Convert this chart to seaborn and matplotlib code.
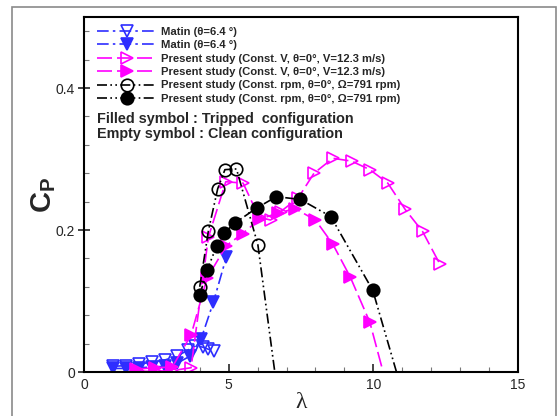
import matplotlib
matplotlib.use("Agg")
import matplotlib.pyplot as plt
import seaborn as sns
from matplotlib.patches import Rectangle
from matplotlib.ticker import MultipleLocator

# Matin, clean (open) and tripped (filled)
matin_clean_tsr = [1.0, 1.45, 1.9, 2.35, 2.8, 3.2, 3.6, 3.85, 4.1, 4.3, 4.5]
matin_clean_cp = [0.008, 0.009, 0.011, 0.014, 0.017, 0.022, 0.031, 0.037, 0.035, 0.032, 0.029]
matin_trip_tsr = [1.0, 1.45, 1.9, 2.35, 2.8, 3.2, 3.65, 4.05, 4.47, 4.92]
matin_trip_cp = [0.005, 0.005, 0.006, 0.007, 0.008, 0.012, 0.022, 0.047, 0.098, 0.162]

# Present study, constant V
constv_clean_tsr = [1.85, 2.45, 3.05, 3.7, 4.3, 4.9, 5.5, 6.05, 6.45, 6.8, 7.4,
                    7.95, 8.6, 9.25, 9.88, 10.5, 11.1, 11.7, 12.3]
constv_clean_cp = [0.001, 0.001, 0.002, 0.006, 0.19, 0.268, 0.266, 0.218, 0.214, 0.226, 0.245,
                   0.28, 0.301, 0.297, 0.285, 0.266, 0.229, 0.198, 0.152]
constv_trip_tsr = [1.8, 2.45, 3.05, 3.7, 4.25, 4.92, 5.48, 6.07, 6.7, 7.3, 8.0, 8.6, 9.2, 9.88, 10.6]
constv_trip_cp = [0.004, 0.006, 0.007, 0.052, 0.132, 0.178, 0.195, 0.215, 0.224, 0.23, 0.214,
                  0.18, 0.134, 0.07, -0.04]

# Present study, constant rpm
rpm_clean_tsr = [4.0, 4.3, 4.62, 4.87, 5.27, 6.01, 6.8]
rpm_clean_cp = [0.12, 0.199, 0.258, 0.285, 0.286, 0.179, -0.063]
rpm_trip_tsr = [4.0, 4.25, 4.59, 4.85, 5.22, 5.97, 6.65, 7.48, 8.53, 9.98, 11.1]
rpm_trip_cp = [0.108, 0.143, 0.178, 0.196, 0.21, 0.231, 0.247, 0.243, 0.219, 0.115, -0.042]

labels = ["Matin (\u03b8=6.4 \u00b0)", "Matin (\u03b8=6.4 \u00b0)",
          "Present study (Const. V, \u03b8=0\u00b0, V=12.3 m/s)",
          "Present study (Const. V, \u03b8=0\u00b0, V=12.3 m/s)",
          "Present study (Const. rpm, \u03b8=0\u00b0, \u03a9=791 rpm)",
          "Present study (Const. rpm, \u03b8=0\u00b0, \u03a9=791 rpm)"]

sns.set_style("ticks")
plt.rcParams["font.family"] = ["Liberation Sans", "DejaVu Sans"]
plt.rcParams["mathtext.fontset"] = "custom"
plt.rcParams["mathtext.rm"] = "Liberation Sans:bold"

blue = "#2e2eff"
magenta = "#ff00ff"
dashdot = (0, (7, 2.5, 1.5, 2.5))
longdash = (0, (9, 3))
dashdotdot = (0, (6, 2, 1, 2, 1, 2))

series = [
    (matin_clean_tsr, matin_clean_cp, blue, dashdot, "v", False),
    (matin_trip_tsr, matin_trip_cp, blue, dashdot, "v", True),
    (constv_clean_tsr, constv_clean_cp, magenta, longdash, ">", False),
    (constv_trip_tsr, constv_trip_cp, magenta, longdash, ">", True),
    (rpm_clean_tsr, rpm_clean_cp, "black", dashdotdot, "o", False),
    (rpm_trip_tsr, rpm_trip_cp, "black", dashdotdot, "o", True),
]

fig = plt.figure(figsize=(5.57, 4.16), dpi=100)
ax = fig.add_axes([84 / 557, 44 / 416, 434 / 557, 355 / 416])

for (xs, ys, col, ls, mk, filled), lab in zip(series, labels):
    sns.lineplot(x=xs, y=ys, ax=ax, sort=False, estimator=None, color=col,
                 linestyle=ls, linewidth=1.2, marker=mk, markersize=9,
                 markerfacecolor=col if filled else "none",
                 markeredgecolor=col, markeredgewidth=1.2, label=lab)

ax.set_xlim(0, 15)
ax.set_ylim(0, 0.5)
ax.set_xticks([0, 5, 10, 15])
ax.set_yticks([0, 0.2, 0.4])
ax.set_yticklabels(["0", "0.2", "0.4"])
ax.xaxis.set_minor_locator(MultipleLocator(1))
ax.yaxis.set_minor_locator(MultipleLocator(0.04))
ax.tick_params(axis="x", which="major", direction="in", length=6, width=1.2, labelsize=10, pad=4)
ax.tick_params(axis="y", which="major", direction="inout", length=9, width=1.2, labelsize=10, pad=2)
ax.tick_params(which="minor", direction="in", length=3.5, width=0.8, color="#777777")
for sp in ax.spines.values():
    sp.set_linewidth(1.5)
    sp.set_color("black")

ax.set_xlabel("\u03bb", fontsize=17, family="Liberation Serif", labelpad=0)
ax.set_ylabel("$\\mathrm{C_P}$", fontsize=21, labelpad=-2)

ax.legend(loc="upper left", bbox_to_anchor=(0.03, 0.972), borderaxespad=0, borderpad=0,
          frameon=False, handlelength=5.3, handletextpad=0.4, labelspacing=0.3,
          prop={"size": 8.1, "weight": "bold"})

ax.text(0.031, 0.712, "Filled symbol : Tripped  configuration", transform=ax.transAxes,
        fontsize=10.4, fontweight="bold", va="center", ha="left")
ax.text(0.031, 0.67, "Empty symbol : Clean configuration", transform=ax.transAxes,
        fontsize=10.4, fontweight="bold", va="center", ha="left")

# outer frame around the figure
fig.patches.append(Rectangle((12 / 557, -0.1), 544 / 557, 1.1 - 7 / 416, transform=fig.transFigure,
                             fill=False, edgecolor="#8a8a8a", linewidth=1.2, figure=fig))

fig.savefig("out.png", dpi=100)
